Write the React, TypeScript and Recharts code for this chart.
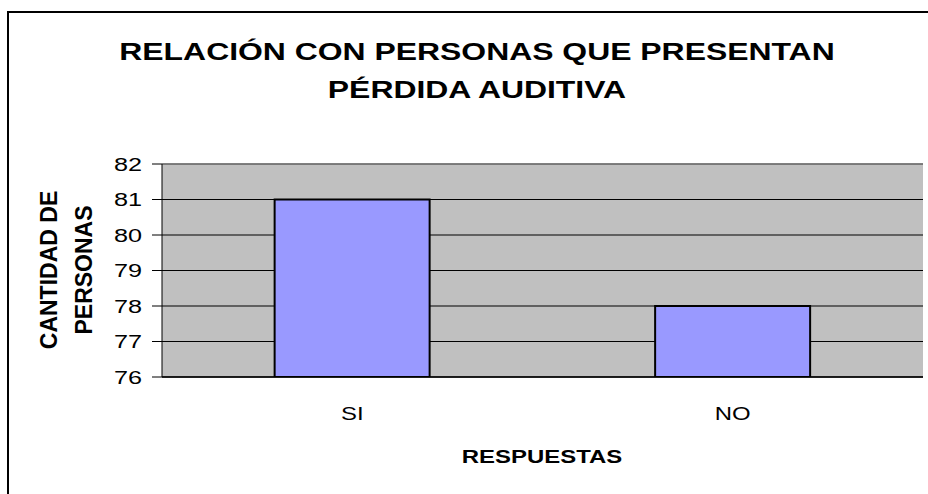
import {
  BarChart,
  Bar,
  XAxis,
  YAxis,
  CartesianGrid,
  ReferenceLine,
  Customized,
} from "recharts";

const categories = ["SI", "NO"];
const personas = [81, 78];
const yTicks = [76, 77, 78, 79, 80, 81, 82];
const boundaryTicks = [0, 1, 2];
const titleLines = ["RELACIÓN CON PERSONAS QUE PRESENTAN", "PÉRDIDA AUDITIVA"];
const yLabelLines = ["CANTIDAD DE", "PERSONAS"];
const xLabel = "RESPUESTAS";

const FONT = '"Liberation Sans", Arial, sans-serif';
// the original picture is stretched sideways, so horizontal text is too
const STRETCH = 1.33;

const data = categories.map((respuesta, i) => ({
  respuesta,
  personas: personas[i],
}));

interface TickProps {
  x?: number;
  y?: number;
  payload?: { value: string | number };
}

function YTick({ x = 0, y = 0, payload }: TickProps) {
  return (
    <text
      transform={`translate(${x},${y}) scale(${STRETCH},1)`}
      textAnchor="end"
      dy="0.36em"
      fontSize={19}
      fontFamily={FONT}
      fill="#000"
    >
      {payload?.value}
    </text>
  );
}

function XTick({ x = 0, y = 0, payload }: TickProps) {
  return (
    <text
      transform={`translate(${x},${y + 43}) scale(${STRETCH},1)`}
      textAnchor="middle"
      fontSize={18}
      fontFamily={FONT}
      fill="#000"
    >
      {payload?.value}
    </text>
  );
}

function Texts() {
  return (
    <g fontFamily={FONT} fontWeight="bold" fill="#000">
      {titleLines.map((line, i) => (
        <text
          key={line}
          transform={`translate(477,${60 + i * 38}) scale(${STRETCH},1)`}
          textAnchor="middle"
          fontSize={24}
        >
          {line}
        </text>
      ))}
      {yLabelLines.map((line, i) => (
        <text
          key={line}
          transform={`translate(${57 + i * 35},270) rotate(-90)`}
          textAnchor="middle"
          fontSize={23}
        >
          {line}
        </text>
      ))}
      <text
        transform={`translate(542,463) scale(${STRETCH},1)`}
        textAnchor="middle"
        fontSize={18}
      >
        {xLabel}
      </text>
    </g>
  );
}

export default function App() {
  return (
    <div
      style={{
        position: "fixed",
        left: 0,
        top: 0,
        width: 928,
        height: 494,
        overflow: "hidden",
        background: "#fff",
      }}
    >
      {/* chart frame: only its top and left edges are inside the picture */}
      <div
        style={{
          position: "absolute",
          left: 7,
          top: 11,
          width: 1000,
          height: 1000,
          borderTop: "2px solid #000",
          borderLeft: "2px solid #000",
        }}
      />
      <div style={{ position: "absolute", left: 0, top: 0 }}>
        <BarChart
          width={928}
          height={494}
          data={data}
          margin={{ top: 164, right: 5, bottom: 87, left: 0 }}
          barCategoryGap="29.6%"
        >
          <CartesianGrid
            vertical={false}
            stroke="#000"
            fill="#C0C0C0"
            fillOpacity={1}
          />
          <XAxis
            xAxisId={0}
            type="number"
            domain={[0, 2]}
            ticks={boundaryTicks}
            allowDataOverflow
            axisLine={false}
            tickLine={{ stroke: "#000" }}
            tickSize={8}
            tick={() => <g />}
            height={0}
          />
          <XAxis
            xAxisId="cat"
            dataKey="respuesta"
            axisLine={{ stroke: "#000", strokeWidth: 1.5 }}
            tickLine={false}
            tickSize={0}
            tickMargin={0}
            tick={<XTick />}
            height={30}
          />
          <YAxis
            domain={[76, 82]}
            ticks={yTicks}
            width={162}
            allowDataOverflow
            axisLine={{ stroke: "#000" }}
            tickLine={{ stroke: "#000" }}
            tickSize={10}
            tickMargin={10}
            tick={<YTick />}
          />
          <ReferenceLine y={82} xAxisId="cat" stroke="#808080" strokeWidth={1.5} />
          <ReferenceLine x={2} xAxisId={0} stroke="#808080" strokeWidth={1.5} />
          <Bar
            xAxisId="cat"
            dataKey="personas"
            fill="#9999FF"
            stroke="#000"
            strokeWidth={2}
            isAnimationActive={false}
          />
          <Customized component={Texts} />
        </BarChart>
      </div>
    </div>
  );
}
